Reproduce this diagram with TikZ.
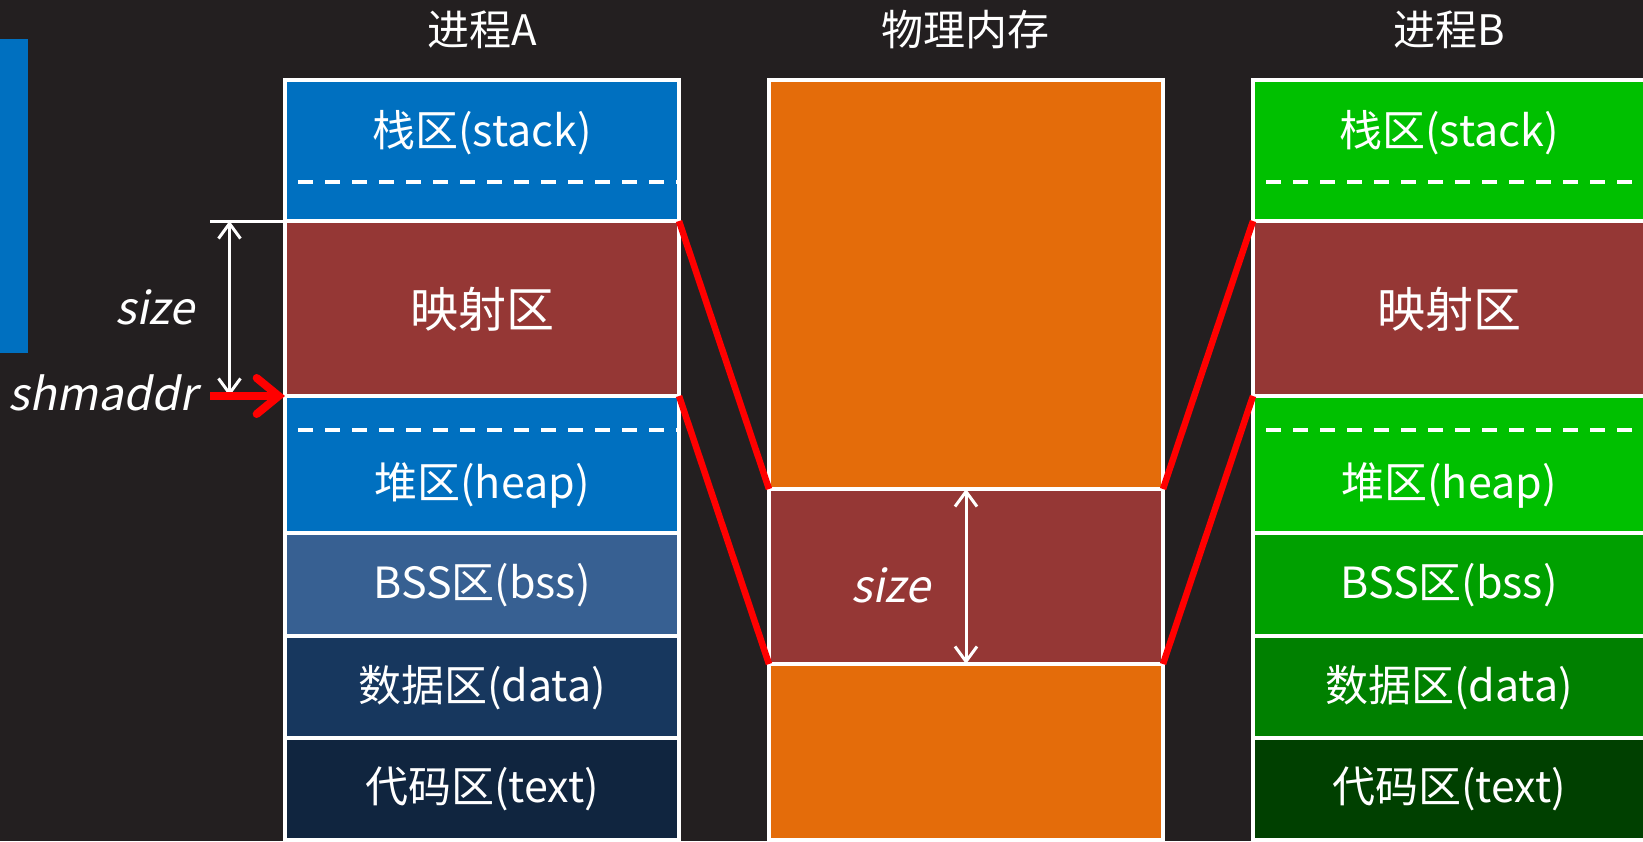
\documentclass[tikz,border=0pt]{standalone}
\usepackage{fontspec}
\setmainfont{Noto Sans CJK SC}
\newfontfamily\slfont[FakeSlant=0.2]{Noto Sans CJK SC}
\usetikzlibrary{arrows.meta}
\definecolor{bg}{RGB}{35,31,32}
\definecolor{blueA}{RGB}{0,112,192}
\definecolor{bssA}{RGB}{55,96,146}
\definecolor{dataA}{RGB}{23,55,94}
\definecolor{textA}{RGB}{16,37,63}
\definecolor{brownc}{RGB}{149,55,53}
\definecolor{orangec}{RGB}{228,108,10}
\definecolor{greenS}{RGB}{0,192,0}
\definecolor{bssB}{RGB}{0,160,0}
\definecolor{dataB}{RGB}{0,128,0}
\definecolor{textB}{RGB}{0,64,0}
\tikzset{
  seg/.style={draw=white, line width=4pt, minimum width=394pt, inner sep=0pt, outer sep=0pt, anchor=north west},
  lbl/.style={text=white, inner sep=0pt, font=\fontsize{43}{50}\selectfont},
  biglbl/.style={text=white, inner sep=0pt, font=\fontsize{48}{56}\selectfont},
  ttl/.style={text=white, inner sep=0pt, font=\fontsize{42}{50}\selectfont},
  itl/.style={text=white, inner sep=0pt, font=\fontsize{45}{52}\slfont},
  dashln/.style={draw=white, line width=4pt, dash pattern=on 15pt off 12pt},
  redln/.style={draw=red, line width=6.5pt},
  sizearrow/.style={draw=white, line width=3pt, {Straight Barb[length=15pt,width=22pt]}-{Straight Barb[length=15pt,width=22pt]}},
  redarrow/.style={draw=red, line width=8pt, -{Straight Barb[length=22pt,width=36pt,line cap=round]}},
}
\begin{document}
\begin{tikzpicture}[x=1pt,y=-1pt]
\fill[bg] (0,0) rectangle (1643,841);
\useasboundingbox (0,0) rectangle (1643,841);

% left decorative bar
\fill[blueA] (0,39) rectangle (28,353);

% titles
\node[ttl] (tA) at (482,30) {进程A};
\node[ttl] (tP) at (965,30) {物理内存};
\node[ttl] (tB) at (1449,30) {进程B};

% process A
\node[seg, fill=blueA, minimum height=141pt] (stackA) at (285,80) {};
\node[seg, fill=brownc, minimum height=175pt] (mapA) at (stackA.south west) {};
\node[seg, fill=blueA, minimum height=137pt] (heapA) at (mapA.south west) {};
\node[seg, fill=bssA, minimum height=103pt] (bssAn) at (heapA.south west) {};
\node[seg, fill=dataA, minimum height=102pt] (dataAn) at (bssAn.south west) {};
\node[seg, fill=textA, minimum height=102pt] (textAn) at (dataAn.south west) {};
\draw[dashln] (298,182) -- (stackA.east |- 0,182);
\draw[dashln] (298,430) -- (heapA.east |- 0,430);
\node[lbl] at (482,133) {栈区(stack)};
\node[biglbl] at (482,309) {映射区};
\node[lbl] at (482,485) {堆区(heap)};
\node[lbl] at (482,585) {BSS区(bss)};
\node[lbl] at (482,688) {数据区(data)};
\node[lbl] at (482,789) {代码区(text)};

% physical memory
\node[seg, fill=orangec, minimum height=409pt] (physTop) at (769,80) {};
\node[seg, fill=brownc, minimum height=175pt] (physMap) at (physTop.south west) {};
\node[seg, fill=orangec, minimum height=176pt] (physBot) at (physMap.south west) {};
\draw[sizearrow] (physMap.north) -- (physMap.south);
\node[itl] at (891,585) {size};

% process B
\node[seg, fill=greenS, minimum height=141pt] (stackB) at (1253,80) {};
\node[seg, fill=brownc, minimum height=175pt] (mapB) at (stackB.south west) {};
\node[seg, fill=greenS, minimum height=137pt] (heapB) at (mapB.south west) {};
\node[seg, fill=bssB, minimum height=103pt] (bssBn) at (heapB.south west) {};
\node[seg, fill=dataB, minimum height=102pt] (dataBn) at (bssBn.south west) {};
\node[seg, fill=textB, minimum height=102pt] (textBn) at (dataBn.south west) {};
\draw[dashln] (1266,182) -- (stackB.east |- 0,182);
\draw[dashln] (1266,430) -- (heapB.east |- 0,430);
\node[lbl] at (1449,133) {栈区(stack)};
\node[biglbl] at (1449,309) {映射区};
\node[lbl] at (1449,485) {堆区(heap)};
\node[lbl] at (1449,585) {BSS区(bss)};
\node[lbl] at (1449,688) {数据区(data)};
\node[lbl] at (1449,789) {代码区(text)};

% red mapping lines
\draw[redln] (mapA.north east) -- (physMap.north west);
\draw[redln] (mapA.south east) -- (physMap.south west);
\draw[redln] (physMap.north east) -- (mapB.north west);
\draw[redln] (physMap.south east) -- (mapB.south west);

% left annotations
\coordinate (ltop) at (210,221);
\coordinate (szTop) at (229.5,221);
\coordinate (szBot) at (229.5,396);
\coordinate (shmStart) at (210,396);
\draw[draw=white, line width=3pt] (ltop) -- (mapA.north west);
\draw[sizearrow] (szTop) -- (szBot);
\draw[redarrow] (shmStart) -- (mapA.south west);
\node[itl] (sizeL) at (155,307) {size};
\node[itl, anchor=east] (shm) at (197,393) {shmaddr};
\end{tikzpicture}
\end{document}
